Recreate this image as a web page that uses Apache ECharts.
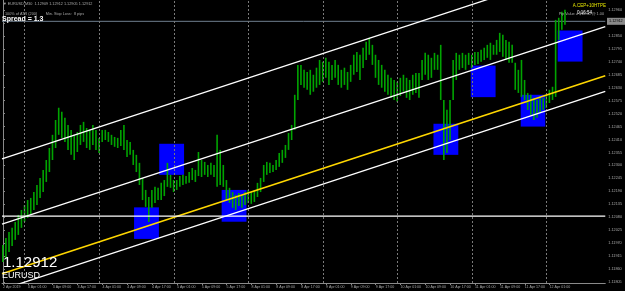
<!DOCTYPE html>
<html><head><meta charset="utf-8">
<script src="https://cdn.jsdelivr.net/npm/echarts@6/dist/echarts.min.js"></script>
<style>html,body{margin:0;padding:0;background:#000;}#c{width:625px;height:291px;}</style>
</head><body><div id="c"></div>
<script>
// Hourly bars, index 0 = 2 Apr 2019 17:00 (weekend skipped)
const highs = [
1.11962,1.11992,1.12017,1.12035,1.12060,1.12090,1.12111,1.12132,1.12153,1.12162,
1.12187,1.12217,1.12247,1.12281,1.12323,1.12374,1.12430,1.12493,1.12545,1.12528,
1.12502,1.12472,1.12451,1.12430,1.12442,1.12472,1.12485,1.12459,1.12451,1.12472,
1.12451,1.12417,1.12451,1.12451,1.12442,1.12430,1.12421,1.12417,1.12451,1.12472,
1.12408,1.12400,1.12366,1.12345,1.12311,1.12247,1.12196,1.12166,1.12196,1.12209,
1.12205,1.12226,1.12238,1.12311,1.12260,1.12238,1.12238,1.12255,1.12260,1.12255,
1.12272,1.12289,1.12281,1.12357,1.12323,1.12315,1.12302,1.12311,1.12302,1.12430,
1.12366,1.12302,1.12238,1.12205,1.12187,1.12175,1.12183,1.12175,1.12187,1.12196,
1.12187,1.12196,1.12226,1.12247,1.12302,1.12315,1.12311,1.12302,1.12323,1.12353,
1.12366,1.12387,1.12438,1.12472,1.12600,1.12727,1.12727,1.12706,1.12697,1.12706,
1.12685,1.12715,1.12748,1.12740,1.12757,1.12740,1.12727,1.12748,1.12727,1.12706,
1.12715,1.12697,1.12727,1.12770,1.12782,1.12770,1.12800,1.12825,1.12842,1.12812,
1.12770,1.12748,1.12727,1.12706,1.12685,1.12672,1.12663,1.12655,1.12672,1.12685,
1.12672,1.12663,1.12685,1.12693,1.12693,1.12748,1.12778,1.12770,1.12757,1.12778,
1.12770,1.12812,1.12578,1.12536,1.12578,1.12748,1.12778,1.12770,1.12778,1.12770,
1.12778,1.12770,1.12782,1.12782,1.12791,1.12800,1.12812,1.12821,1.12812,1.12833,
1.12863,1.12855,1.12833,1.12825,1.12812,1.12736,1.12706,1.12748,1.12663,1.12608,
1.12600,1.12587,1.12578,1.12591,1.12587,1.12600,1.12621,1.12634,1.12918,1.12927,
1.12953,1.12961];
const lows = [
1.11890,1.11907,1.11932,1.11958,1.11984,1.12005,1.12035,1.12060,1.12077,1.12094,
1.12111,1.12132,1.12162,1.12187,1.12230,1.12272,1.12323,1.12374,1.12430,1.12417,
1.12400,1.12366,1.12345,1.12323,1.12357,1.12387,1.12400,1.12374,1.12366,1.12387,
1.12366,1.12353,1.12400,1.12408,1.12400,1.12387,1.12379,1.12374,1.12383,1.12366,
1.12336,1.12345,1.12302,1.12272,1.12217,1.12153,1.12124,1.12060,1.12120,1.12141,
1.12153,1.12153,1.12170,1.12209,1.12205,1.12187,1.12196,1.12209,1.12217,1.12222,
1.12226,1.12238,1.12230,1.12255,1.12251,1.12260,1.12251,1.12260,1.12251,1.12209,
1.12217,1.12209,1.12153,1.12141,1.12120,1.12111,1.12128,1.12120,1.12132,1.12141,
1.12137,1.12145,1.12166,1.12187,1.12230,1.12260,1.12268,1.12272,1.12281,1.12294,
1.12311,1.12332,1.12366,1.12408,1.12451,1.12578,1.12642,1.12630,1.12621,1.12600,
1.12613,1.12630,1.12642,1.12655,1.12672,1.12642,1.12663,1.12672,1.12642,1.12630,
1.12642,1.12621,1.12655,1.12685,1.12697,1.12663,1.12714,1.12748,1.12770,1.12727,
1.12672,1.12642,1.12630,1.12613,1.12600,1.12587,1.12578,1.12570,1.12595,1.12613,
1.12587,1.12578,1.12600,1.12608,1.12587,1.12663,1.12685,1.12663,1.12672,1.12706,
1.12706,1.12578,1.12323,1.12353,1.12408,1.12578,1.12663,1.12706,1.12714,1.12706,
1.12727,1.12714,1.12727,1.12731,1.12740,1.12748,1.12757,1.12748,1.12770,1.12770,
1.12782,1.12761,1.12748,1.12736,1.12736,1.12621,1.12608,1.12591,1.12578,1.12536,
1.12515,1.12493,1.12502,1.12523,1.12536,1.12544,1.12565,1.12578,1.12591,1.12833,
1.12876,1.12897];

const dateLabels = ['2 Apr 2019','3 Apr 01:00','3 Apr 09:00','3 Apr 17:00','4 Apr 01:00','4 Apr 09:00','4 Apr 17:00',
'5 Apr 01:00','5 Apr 09:00','5 Apr 17:00','8 Apr 01:00','8 Apr 09:00','8 Apr 17:00','9 Apr 01:00','9 Apr 09:00',
'9 Apr 17:00','10 Apr 01:00','10 Apr 09:00','10 Apr 17:00','11 Apr 01:00','11 Apr 09:00','11 Apr 17:00','12 Apr 01:00'];
const dateLabelIndex = [0,8,16,24,32,40,48,56,64,72,80,88,96,104,112,120,128,136,144,152,160,168,176];
const daySeparators = [7,31,55,79,103,127,151,175];

const priceTicks = [1.11805,1.11860,1.11915,1.11970,1.12025,1.12080,1.12135,1.12190,1.12245,1.12300,1.12355,
1.12410,1.12465,1.12520,1.12575,1.12630,1.12685,1.12740,1.12795,1.12850,1.12905,1.12960];

// trend channel lines: [x-start, price-start, x-end, price-end]
const upperLine  = [-0.32, 1.12328, 193.92, 1.13169];
const middleLine = [-0.32, 1.12051, 193.92, 1.12889];
const yellowLine = [-0.32, 1.11840, 193.92, 1.12681];
const lowerLine  = [-0.32, 1.11773, 193.92, 1.12614];
const supportLevel = 1.12085;
const bidPrice = 1.12912;

// blue zones
const boxStart = [42.2, 50.3, 70.4, 138.6, 150.6, 166.7, 178.6];
const boxEnd   = [50.2, 58.3, 78.4, 146.6, 158.6, 174.6, 186.6];
const boxHigh  = [1.12122, 1.12392, 1.12196, 1.12477, 1.12724, 1.12600, 1.12873];
const boxLow   = [1.11988, 1.12260, 1.12061, 1.12345, 1.12590, 1.12465, 1.12741];

const XMIN = -0.32, XMAX = 193.92, YMIN = 1.118008, YMAX = 1.130025;
const chart = echarts.init(document.getElementById('c'), null, {renderer:'canvas'});
const font = 'Liberation Sans, Arial, sans-serif';

function lineSeries(l, color, w){
  return {type:'line', data:[[l[0],l[1]],[l[2],l[3]]], symbol:'none', silent:true, z:5,
    lineStyle:{color:color, width:w}, animation:false};
}

const option = {
  backgroundColor:'#000',
  animation:false,
  grid:{left:0, right:18, top:0, bottom:8},
  xAxis:{type:'value', min:XMIN, max:XMAX,
    axisLine:{show:true, lineStyle:{color:'#8a8a8a', width:1}},
    axisTick:{show:true, customValues:dateLabelIndex, length:2, lineStyle:{color:'#8a8a8a'}},
    axisLabel:{customValues:dateLabelIndex, formatter:(v)=>dateLabels[dateLabelIndex.indexOf(Math.round(v))]||'',
      color:'#a8a8a8', fontSize:3.6, fontFamily:font, align:'left', margin:2},
    splitLine:{show:false}},
  yAxis:{type:'value', position:'right', min:YMIN, max:YMAX, scale:true,
    axisLine:{show:true, lineStyle:{color:'#8a8a8a', width:1}},
    axisTick:{show:true, customValues:priceTicks, length:2, inside:false, lineStyle:{color:'#8a8a8a'}},
    axisLabel:{customValues:priceTicks, formatter:(v)=>v.toFixed(5), color:'#a8a8a8', fontSize:3.8, fontFamily:font, margin:3},
    splitLine:{show:false}},
  series:[
    {type:'custom', z:1, clip:true, silent:true,
      data: boxStart.map((s,i)=>[s, boxEnd[i], boxHigh[i], boxLow[i]]),
      renderItem:(p, api)=>{
        const a = api.coord([api.value(0), api.value(2)]);
        const b = api.coord([api.value(1), api.value(3)]);
        return {type:'rect', shape:{x:a[0], y:a[1], width:b[0]-a[0], height:b[1]-a[1]}, style:{fill:'#0000ff'}};
      }},
    {type:'line', z:2, silent:true, symbol:'none', data:[[XMIN,bidPrice],[XMAX,bidPrice]],
      lineStyle:{color:'#6f7f8f', width:1},
      markLine:{silent:true, symbol:'none', label:{show:false},
        lineStyle:{color:'#7a7a7a', type:[2,2], width:1},
        data: daySeparators.map(d=>({xAxis:d}))}},
    {type:'custom', z:3, clip:true, silent:true,
      data: highs.map((h,i)=>[i, lows[i], h]),
      renderItem:(p, api)=>{
        const x = api.value(0);
        const lo = api.coord([x, api.value(1)]);
        const hi = api.coord([x, api.value(2)]);
        return {type:'rect', shape:{x:lo[0]-1, y:hi[1], width:1.6, height:Math.max(1, lo[1]-hi[1])}, style:{fill:'#00a400'}};
      }},
    lineSeries(upperLine, '#ffffff', 1.3),
    lineSeries(middleLine, '#ffffff', 1.3),
    lineSeries(yellowLine, '#ffd700', 1.6),
    lineSeries(lowerLine, '#ffffff', 1.3),
    lineSeries([XMIN, supportLevel, XMAX, supportLevel], '#ffffff', 1.3)
  ]
};
chart.setOption(option);

const by = chart.convertToPixel({yAxisIndex:0}, bidPrice);
chart.setOption({graphic:[
  {type:'text', left:3, top:2, z:10, style:{text:'\u25BC EURUSD,M30  1.12909 1.12912 1.12905 1.12912', fill:'#a8a8a8', font:'3.8px '+font}},
  {type:'text', left:5, top:12, z:10, style:{text:'100% of ATR (200)        Min. Stop Loss:  8 pips', fill:'#a8a8a8', font:'3.8px '+font}},
  {type:'text', left:2, top:16, z:10, style:{text:'Spread = 1.3', fill:'#ffffff', font:'bold 7px '+font}},
  {type:'text', right:19, top:3, z:10, style:{text:'A.CEP+10HTPE', fill:'#e6e600', font:'4.5px '+font}},
  {type:'text', right:21, top:12, z:10, style:{text:'Pip Value = $10.00 @ 1.00', fill:'#a8a8a8', font:'3.8px '+font}},
  {type:'text', left:577, top:10, z:11, style:{text:'0:16:54', fill:'#ffffff', font:'4.5px '+font}},
  {type:'text', left:3, top:255, z:10, style:{text:'1.12912', fill:'#ffffff', font:'15px '+font}},
  {type:'text', left:2, top:271, z:10, style:{text:'EURUSD', fill:'#ffffff', font:'9px '+font}},
  {type:'rect', shape:{x:607, y:by-3.5, width:18, height:7}, z:20, style:{fill:'#8a8a8a'}},
  {type:'text', x:609, y:by-2, z:21, style:{text:bidPrice.toFixed(5), fill:'#000', font:'3.8px '+font}}
]});
</script></body></html>
